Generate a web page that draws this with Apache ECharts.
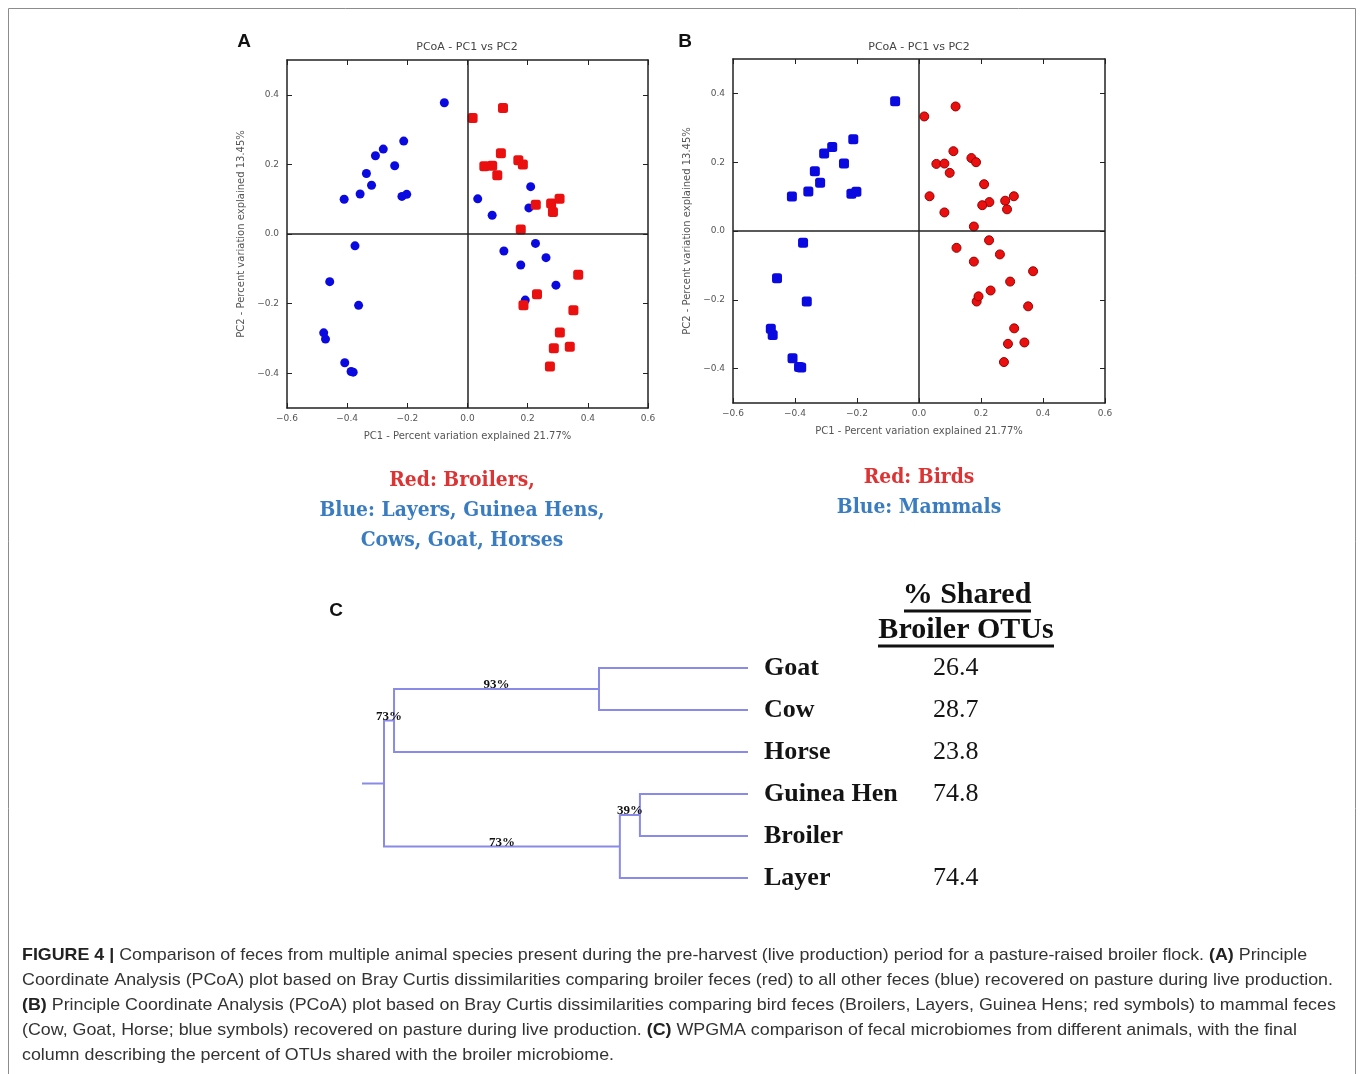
<!DOCTYPE html>
<html><head><meta charset="utf-8">
<script src="https://cdn.jsdelivr.net/npm/echarts@6/dist/echarts.min.js"></script>
<style>html,body{margin:0;padding:0;background:#fff}#c{width:1360px;height:1074px}</style>
</head><body><div id="c"></div>
<script>
// ---------- PCoA data (PC1, PC2) ----------
// Mammal samples (left cluster)
const mammalsX = [-0.077,-0.212,-0.280,-0.306,-0.242,-0.336,-0.319,-0.357,-0.410,-0.218,-0.202,-0.374,-0.458,-0.362,-0.478,-0.472,-0.408,-0.387,-0.380];
const mammalsY = [ 0.377, 0.267, 0.244, 0.225, 0.196, 0.174, 0.140, 0.115, 0.100, 0.108, 0.114,-0.034,-0.137,-0.205,-0.284,-0.302,-0.370,-0.395,-0.397];
// Other bird samples (layers, guinea hens)
const birdsOtherX = [0.034,0.082,0.210,0.204,0.121,0.226,0.261,0.177,0.294,0.192];
const birdsOtherY = [0.101,0.054,0.136,0.075,-0.049,-0.027,-0.068,-0.089,-0.147,-0.190];
// Broiler samples
const broilersX = [0.017,0.118,0.111,0.056,0.082,0.099,0.169,0.184,0.227,0.278,0.306,0.284,0.177,0.368,0.231,0.186,0.352,0.307,0.287,0.340,0.274];
const broilersY = [0.333,0.362,0.232,0.195,0.196,0.169,0.212,0.200,0.084,0.088,0.101,0.063,0.013,-0.117,-0.173,-0.205,-0.219,-0.283,-0.328,-0.324,-0.381];

const xTicks = [-0.6,-0.4,-0.2,0,0.2,0.4,0.6];
const yTicks = [-0.4,-0.2,0,0.2,0.4];

// ---------- Dendrogram (WPGMA) ----------
const leafNames  = ['Goat','Cow','Horse','Guinea Hen','Broiler','Layer'];
const sharedOTUs = ['26.4','28.7','23.8','74.8','','74.4'];
// merges: node 6..10 join linkA[k] and linkB[k] at linkHeight[k]
const linkA = [0, 6, 3, 8, 7];
const linkB = [1, 2, 4, 5, 9];
const linkHeight = [0.386, 0.917, 0.280, 0.332, 0.943];
const nodeSupport = ['93%','73%','39%','73%',''];
const rootStub = 1.0;

// ---------- helpers ----------
const pts = (xs, ys) => xs.map((x, i) => [x, ys[i]]);
const fmt = v => (Math.abs(v) < 1e-9 ? '0.0' : (v < 0 ? '\u2212' + Math.abs(v).toFixed(1) : v.toFixed(1)));

const nodeX = leafNames.map(() => 0);
const nodeY = leafNames.map((_, i) => i);
const parent = {};
const segs = [];
for (let k = 0; k < linkA.length; k++) {
  const a = linkA[k], b = linkB[k], h = linkHeight[k];
  segs.push({coords: [[nodeX[a], nodeY[a]], [h, nodeY[a]], [h, nodeY[b]], [nodeX[b], nodeY[b]]]});
  const id = nodeX.length;
  parent[a] = id; parent[b] = id;
  nodeX.push(h); nodeY.push((nodeY[a] + nodeY[b]) / 2);
}
const root = nodeX.length - 1;
segs.push({coords: [[nodeX[root], nodeY[root]], [rootStub, nodeY[root]]]});
const supportPts = [], supportTxt = [];
for (let k = 0; k < linkA.length; k++) {
  const id = leafNames.length + k;
  if (!nodeSupport[k] || parent[id] === undefined) continue;
  supportPts.push([(nodeX[id] + nodeX[parent[id]]) / 2, nodeY[id]]);
  supportTxt.push(nodeSupport[k]);
}

// ---------- axes ----------
const AX = '#222';
function xBottom(g) {
  return {type:'value', gridIndex:g, min:-0.6, max:0.6, interval:0.2, position:'bottom',
    name:'PC1 - Percent variation explained 21.77%', nameLocation:'middle', nameGap:23,
    nameTextStyle:{fontSize:10, color:'#555', fontFamily:'DejaVu Sans'},
    axisLine:{onZero:false, lineStyle:{color:AX, width:1.5}},
    axisTick:{inside:true, length:5, customValues:xTicks, lineStyle:{color:AX}},
    axisLabel:{formatter:fmt, fontSize:9, color:'#555', margin:6, customValues:xTicks, fontFamily:'DejaVu Sans'},
    splitLine:{show:false}};
}
function xTop(g) {
  return {type:'value', gridIndex:g, min:-0.6, max:0.6, interval:0.2, position:'top',
    axisLine:{onZero:false, lineStyle:{color:AX, width:1.5}},
    axisTick:{inside:true, length:5, customValues:xTicks, lineStyle:{color:AX}},
    axisLabel:{show:false}, splitLine:{show:false}};
}
function yLeft(g) {
  return {type:'value', gridIndex:g, min:-0.5, max:0.5, position:'left',
    name:'PC2 - Percent variation explained 13.45%', nameLocation:'middle', nameGap:41, nameRotate:90,
    nameTextStyle:{fontSize:10, color:'#555', fontFamily:'DejaVu Sans'},
    axisLine:{onZero:false, lineStyle:{color:AX, width:1.5}},
    axisTick:{inside:true, length:5, customValues:yTicks, lineStyle:{color:AX}},
    axisLabel:{formatter:fmt, fontSize:9, color:'#555', margin:8, customValues:yTicks, fontFamily:'DejaVu Sans'},
    splitLine:{show:false}};
}
function yRight(g) {
  return {type:'value', gridIndex:g, min:-0.5, max:0.5, position:'right',
    axisLine:{onZero:false, lineStyle:{color:AX, width:1.5}},
    axisTick:{inside:true, length:5, customValues:yTicks, lineStyle:{color:AX}},
    axisLabel:{show:false}, splitLine:{show:false}};
}
function leafAxis(offset, labels, weight) {
  return {type:'value', gridIndex:2, min:0, max:leafNames.length - 1, interval:1, inverse:true,
    position:'right', offset:offset,
    axisLine:{show:false}, axisTick:{show:false}, splitLine:{show:false},
    axisLabel:{show:true, margin:16, align:'left', formatter:v => labels[v] || '',
      fontFamily:'Liberation Serif', fontWeight:weight, fontSize:26, color:'#141414'}};
}
const zeroLines = {silent:true, symbol:'none', label:{show:false}, animation:false,
  lineStyle:{color:AX, type:'solid', width:1.5}, data:[{xAxis:0},{yAxis:0}]};

const BLUE = '#0a0ae0', RED = '#ea1010', DLINE = '#8a8ae8';

// ---------- text helpers ----------
const mctx = document.createElement('canvas').getContext('2d');
function measure(font, s) { mctx.font = font; return mctx.measureText(s).width; }

const capFont = '17px "Liberation Sans"';
const capLines = [
  '{b|FIGURE 4 |} Comparison of feces from multiple animal species present during the pre-harvest (live production) period for a pasture-raised broiler flock. {b|(A)} Principle',
  'Coordinate Analysis (PCoA) plot based on Bray Curtis dissimilarities comparing broiler feces (red) to all other feces (blue) recovered on pasture during live production.',
  '{b|(B)} Principle Coordinate Analysis (PCoA) plot based on Bray Curtis dissimilarities comparing bird feces (Broilers, Layers, Guinea Hens; red symbols) to mammal feces',
  '(Cow, Goat, Horse; blue symbols) recovered on pasture during live production. {b|(C)} WPGMA comparison of fecal microbiomes from different animals, with the final',
  'column describing the percent of OTUs shared with the broiler microbiome.'
];
const capScale = 1311 / measure(capFont, capLines[1]);

const legFont = 'bold 21px "DejaVu Serif"';
const legScale = 285 / measure(legFont, 'Blue: Layers, Guinea Hens,');

const graphics = [];
graphics.push({type:'rect', shape:{x:8.5, y:8.5, width:1347, height:1200}, style:{fill:'none', stroke:'#8c8c8c', lineWidth:1}, silent:true});
function txt(x, y, s, font, fill, align, extra) {
  return Object.assign({type:'text', x:x, y:y, silent:true,
    style:{text:s, font:font, fill:fill, align:align||'center', textAlign:align||'center', verticalAlign:'middle', textVerticalAlign:'middle'}}, extra||{});
}
graphics.push(txt(244, 42, 'A', 'bold 19px "Liberation Sans"', '#111'));
graphics.push(txt(685, 42, 'B', 'bold 19px "Liberation Sans"', '#111'));
graphics.push(txt(336, 611, 'C', 'bold 19px "Liberation Sans"', '#111'));
graphics.push(txt(467, 47, 'PCoA - PC1 vs PC2', '11px "DejaVu Sans"', '#444'));
graphics.push(txt(919, 47, 'PCoA - PC1 vs PC2', '11px "DejaVu Sans"', '#444'));
const LRED = '#dc3434', LBLUE = '#3a7cc0';
[[462,481,'Red: Broilers,',LRED],[462,511,'Blue: Layers, Guinea Hens,',LBLUE],[462,541,'Cows, Goat, Horses',LBLUE],
 [919,478,'Red: Birds',LRED],[919,508,'Blue: Mammals',LBLUE]].forEach(d => {
  graphics.push(txt(d[0], d[1], d[2], legFont, d[3], 'center', {scaleX:legScale}));
});
// panel C header
graphics.push(txt(967, 595, '% Shared', 'bold 30px "Liberation Serif"', '#111'));
graphics.push(txt(966, 630, 'Broiler OTUs', 'bold 30px "Liberation Serif"', '#111'));
graphics.push({type:'line', silent:true, shape:{x1:904, y1:611, x2:1031, y2:611}, style:{stroke:'#111', lineWidth:3}});
graphics.push({type:'line', silent:true, shape:{x1:878, y1:646, x2:1054, y2:646}, style:{stroke:'#111', lineWidth:3}});
// caption
capLines.forEach((s, i) => {
  graphics.push({type:'text', x:22, y:955 + i*25, scaleX:capScale, silent:true,
    style:{text:s, font:capFont, fill:'#333', align:'left', textAlign:'left', verticalAlign:'middle', textVerticalAlign:'middle',
      rich:{b:{fontWeight:'bold', fontSize:17, fontFamily:'Liberation Sans', fill:'#222', color:'#222'}}}});
});

const option = {
  animation:false,
  backgroundColor:'#fff',
  grid:[
    {left:287, top:60, width:361, height:348},
    {left:733, top:59, width:372, height:344},
    {left:362, top:668, width:386, height:210}
  ],
  xAxis:[xBottom(0), xTop(0), xBottom(1), xTop(1),
    {type:'value', gridIndex:2, min:0, max:1, inverse:true, show:false}],
  yAxis:[yLeft(0), yRight(0), yLeft(1), yRight(1),
    {type:'value', gridIndex:2, min:0, max:leafNames.length - 1, inverse:true, show:false},
    leafAxis(0, leafNames, 'bold'),
    leafAxis(169, sharedOTUs, 'normal')],
  graphic:{elements:graphics},
  series:[
    // Panel A
    {type:'scatter', xAxisIndex:0, yAxisIndex:0, symbol:'circle', symbolSize:9, z:3,
      itemStyle:{color:BLUE, opacity:1}, data:pts(mammalsX, mammalsY).concat(pts(birdsOtherX, birdsOtherY)),
      markLine:zeroLines},
    {type:'scatter', xAxisIndex:0, yAxisIndex:0, symbol:'roundRect', symbolSize:10, z:3,
      itemStyle:{color:RED, opacity:1}, data:pts(broilersX, broilersY)},
    // Panel B
    {type:'scatter', xAxisIndex:2, yAxisIndex:2, symbol:'roundRect', symbolSize:10, z:3,
      itemStyle:{color:BLUE, opacity:1}, data:pts(mammalsX, mammalsY), markLine:zeroLines},
    {type:'scatter', xAxisIndex:2, yAxisIndex:2, symbol:'circle', symbolSize:9, z:3,
      itemStyle:{color:RED, borderColor:'#9a0000', borderWidth:1, opacity:1},
      data:pts(broilersX, broilersY).concat(pts(birdsOtherX, birdsOtherY))},
    // Panel C dendrogram
    {type:'lines', coordinateSystem:'cartesian2d', xAxisIndex:4, yAxisIndex:4, polyline:true, silent:true,
      lineStyle:{color:DLINE, width:2, opacity:1, curveness:0}, data:segs},
    {type:'scatter', xAxisIndex:4, yAxisIndex:4, symbolSize:1, silent:true, z:5,
      itemStyle:{color:DLINE, opacity:1}, data:supportPts,
      label:{show:true, position:'inside', offset:[0,-4], formatter:p => supportTxt[p.dataIndex],
        fontFamily:'Liberation Serif', fontWeight:'bold', fontSize:13, color:'#111', opacity:1}}
  ]
};
const chart = echarts.init(document.getElementById('c'), null, {renderer:'canvas'});
chart.setOption(option);
</script>
</body></html>
